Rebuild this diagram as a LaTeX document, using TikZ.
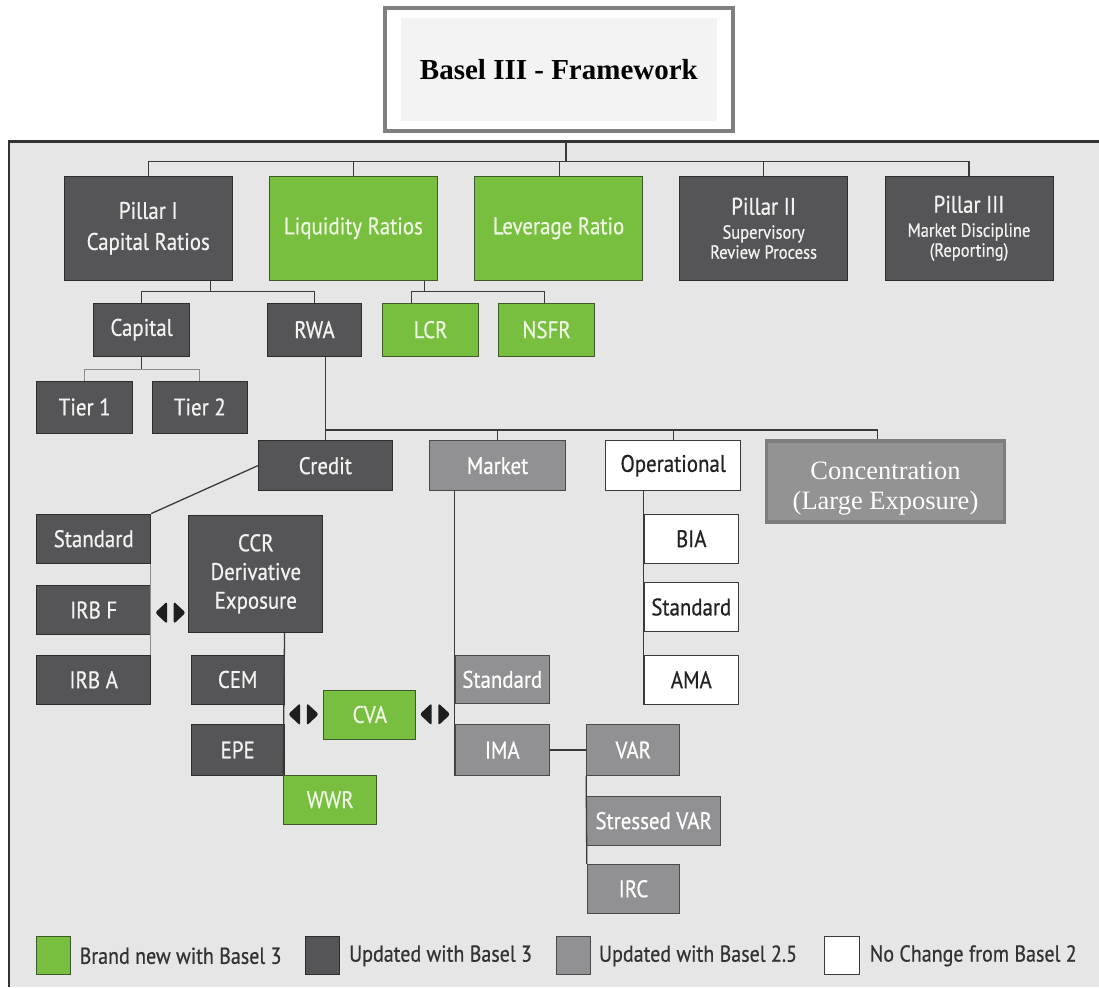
\documentclass[tikz,border=0pt]{standalone}
\usepackage{fontspec}
\newfontfamily\boxfont[FakeStretch=0.87,FakeBold=0.6]{PT Sans}
\newfontfamily\timesfont{Liberation Serif}

\definecolor{panelbg}{HTML}{E6E6E6}
\definecolor{panelrule}{HTML}{333333}
\definecolor{dkfill}{HTML}{555557}
\definecolor{dkrule}{HTML}{2E2E2E}
\definecolor{dktext}{HTML}{F2F2F2}
\definecolor{grfill}{HTML}{78BE3F}
\definecolor{grrule}{HTML}{3F5A2A}
\definecolor{grtext}{HTML}{EEF7E4}
\definecolor{mdfill}{HTML}{919193}
\definecolor{mdrule}{HTML}{4A4A4A}
\definecolor{wtrule}{HTML}{3A3A3A}
\definecolor{wttext}{HTML}{222222}
\definecolor{linec}{HTML}{3A3A3A}
\definecolor{faintc}{HTML}{8C8C8C}
\definecolor{frameC}{HTML}{7F7F7F}
\definecolor{frameFill}{HTML}{F3F3F3}
\definecolor{concfill}{HTML}{939393}
\definecolor{concrule}{HTML}{7D7D7D}
\definecolor{markc}{HTML}{1E1E1E}
\definecolor{legtext}{HTML}{333333}

\tikzset{
  cell/.style={rectangle, inner sep=0pt, line width=1pt, align=center,
    font=\boxfont\fontsize{24}{31}\selectfont},
  dk/.style={cell, fill=dkfill, draw=dkrule, text=dktext},
  gn/.style={cell, fill=grfill, draw=grrule, text=grtext},
  md/.style={cell, fill=mdfill, draw=mdrule, text=white},
  wt/.style={cell, fill=white, draw=wtrule, text=wttext},
  conn/.style={draw=linec, line width=1.3pt},
  faint/.style={draw=faintc, line width=1.3pt},
  legbox/.style={rectangle, inner sep=0pt, line width=1pt, minimum width=34.3, minimum height=38.3},
  legtxt/.style={anchor=west, inner sep=0pt, text=legtext, font=\boxfont\fontsize{23}{26}\selectfont},
  twoway/.pic={
    \fill[markc, rounded corners=2.5pt] (-3.3,-11.2) -- (-15.3,0) -- (-3.3,11.2) -- cycle;
    \fill[markc, rounded corners=2.5pt] (3.3,-11.2) -- (15.3,0) -- (3.3,11.2) -- cycle;
  }
}

\begin{document}
\begin{tikzpicture}[x=1pt, y=-1pt]
\useasboundingbox (0,0) rectangle (1099,987);

% panel behind the tree
\fill[panelbg] (9,141.7) rectangle (1099,987);
\draw[panelrule, line width=2.5pt] (9,987) -- (9,141.7) -- (1099,141.7);

% title
\node[rectangle, draw=frameC, fill=white, line width=4pt, minimum width=348.3, minimum height=123] (title) at (558.9,69.5) {};
\node[rectangle, fill=frameFill, inner sep=0pt, minimum width=316, minimum height=103.4,
      font=\timesfont\bfseries\fontsize{29}{34}\selectfont] (titletext) at (title.center) {Basel III - Framework};

% first level
\node[dk, minimum width=168, minimum height=103.5] (p1)  at (148.2,228.3) {Pillar I\\Capital Ratios};
\node[gn, minimum width=168, minimum height=103.5] (liq) at (353.4,228.3) {Liquidity Ratios};
\node[gn, minimum width=168, minimum height=103.5] (lev) at (558.5,228.3) {Leverage Ratio};
\node[dk, minimum width=168, minimum height=103.5, font=\boxfont\fontsize{19}{20}\selectfont] (p2) at (763.6,228.3)
  {{\fontsize{24}{25}\selectfont Pillar II}\\[4pt]Supervisory\\Review Process};
\node[dk, minimum width=168, minimum height=103.5, font=\boxfont\fontsize{19}{20}\selectfont] (p3) at (969,228.3)
  {{\fontsize{24}{25}\selectfont Pillar III}\\[4pt]Market Discipline\\(Reporting)};

% second level
\node[dk, minimum width=96.5, minimum height=53.4] (cap)  at (141.6,329.7) {Capital};
\node[dk, minimum width=94.3, minimum height=53.4] (rwa)  at (314.5,329.7) {RWA};
\node[gn, minimum width=95.7, minimum height=53.4] (lcr)  at (430.6,329.7) {LCR};
\node[gn, minimum width=96.4, minimum height=53.4] (nsfr) at (546.6,329.7) {NSFR};

\node[dk, minimum width=95.8, minimum height=52] (t1) at (84.7,407) {Tier 1};
\node[dk, minimum width=95,   minimum height=52] (t2) at (199.8,407) {Tier 2};

% risk types
\node[dk, minimum width=134,   minimum height=50] (credit) at (325.3,465.7) {Credit};
\node[md, minimum width=136.4, minimum height=50] (market) at (497.5,465.7) {Market};
\node[wt, minimum width=135,   minimum height=50] (oper)   at (673.2,465.7) {Operational};
\node[rectangle, fill=concfill, draw=concrule, line width=3.5pt, inner sep=0pt,
      text=white, minimum width=237.6, minimum height=81.3,
      font=\timesfont\fontsize{26.5}{30}\selectfont] (conc) at (885.5,481.4)
  {\parbox{230pt}{\centering\vspace*{15pt}Concentration\\(Large Exposure)}};

% credit risk
\node[dk, minimum width=114, minimum height=49.3] (std)  at (93.7,538.7) {Standard};
\node[dk, minimum width=114, minimum height=48.6] (irbf) at (93.7,610)   {IRB F};
\node[dk, minimum width=114, minimum height=49]   (irba) at (93.7,679.8) {IRB A};
\node[dk, minimum width=133.7, minimum height=117, font=\boxfont\fontsize{24}{28.7}\selectfont] (ccr) at (255.8,573.8)
  {CCR\\Derivative\\Exposure};
\node[dk, minimum width=92.7, minimum height=49] (cem) at (237.7,679.5) {CEM};
\node[dk, minimum width=92.7, minimum height=51] (epe) at (237.7,749.8) {EPE};
\node[gn, minimum width=93,   minimum height=49.3] (wwr) at (330.2,799.7) {WWR};
\node[gn, minimum width=92.3, minimum height=49] (cva) at (369.8,714.5) {CVA};

% market risk
\node[md, minimum width=94,   minimum height=48.7] (mstd) at (502.3,679.4) {Standard};
\node[md, minimum width=94,   minimum height=50.6] (ima)  at (502.3,750)   {IMA};
\node[md, minimum width=93.3, minimum height=50.6] (var)  at (633.3,750)   {VAR};
\node[md, minimum width=134,  minimum height=49.3] (svar) at (653.7,820.7) {Stressed VAR};
\node[md, minimum width=92.4, minimum height=49]   (irc)  at (633.5,888.8) {IRC};

% operational risk
\node[wt, minimum width=94, minimum height=49.3] (bia)  at (691.3,538.7) {BIA};
\node[wt, minimum width=94, minimum height=48.6] (ostd) at (691.3,607)   {Standard};
\node[wt, minimum width=94, minimum height=48.7] (ama)  at (691.3,679.7) {AMA};

% connectors: framework to the pillars
\coordinate (ptop) at (566,141.7);
\coordinate (bus)  at (566,161.7);
\draw[conn] (ptop) -- (bus);
\draw[conn] (p1.north) |- (bus) -| (p3.north);
\draw[conn] (liq.north) -- (liq.north |- bus);
\draw[conn] ([xshift=1pt]lev.north) -- ([xshift=1pt]lev.north |- bus);
\draw[conn] (p2.north) -- (p2.north |- bus);

% pillar I to capital and RWA
\coordinate (p1j) at (210.5,291.5);
\draw[conn] (p1.south -| p1j) -- (p1j);
\draw[conn] (cap.north) |- (p1j) -| (rwa.north);

% liquidity ratios to LCR and NSFR
\coordinate (lqj) at (424.4,291.5);
\draw[conn] (liq.south -| lqj) -- (lqj);
\draw[conn] ([xshift=-19.2pt]lcr.north) |- (lqj) -| ([xshift=-1.9pt]nsfr.north);

% capital to tiers
\coordinate (capj) at (141.6,369.7);
\draw[conn] (cap.south) -- (capj);
\draw[faint] (t1.north) |- (capj) -| (t2.north);

% RWA to the risk types
\coordinate (rj) at (325.3,430);
\draw[conn] (rwa.south -| credit.north) -- (credit.north);
\draw[conn] (rj) -| ([xshift=-7.8pt]conc.north);
\draw[conn] (rj -| market.north) -- (market.north);
\draw[conn] (rj -| oper.north) -- (oper.north);

% credit branch
\draw[conn] (credit.west) -- (std.north east);
\draw[faint] ([xshift=-0.7pt]std.south east) -- ([xshift=-0.7pt]irba.north east);
\draw[conn] (ccr.south -| cem.east) -- (wwr.north west);

% market branch
\draw[conn] (market.south -| ima.west) -- (ima.south west);
\draw[conn] (ima.east) -- (var.west);
\draw[conn] (var.south west) -- (irc.north west);

% operational branch
\draw[conn] (oper.south -| bia.west) -- (ama.south west);

% two-way markers
\pic at (170.4,612.7) {twoway};
\pic at (303.5,714.3) {twoway};
\pic at (435,714.3) {twoway};

% legend
\node[legbox, fill=grfill, draw=grrule]   (lg1) at (53.8,955.8)  {};
\node[legbox, fill=dkfill, draw=dkrule]   (lg2) at (322.3,955.8) {};
\node[legbox, fill=mdfill, draw=mdrule]   (lg3) at (573.2,955.8) {};
\node[legbox, fill=white,  draw=wtrule]   (lg4) at (842,955.8)   {};
\node[legtxt] (lt1) at ([xshift=8pt]lg1.east) {Brand new with Basel 3};
\node[legtxt] (lt2) at ([xshift=9pt]lg2.east) {Updated with Basel 3};
\node[legtxt] (lt3) at ([xshift=8pt]lg3.east) {Updated with Basel 2.5};
\node[legtxt] (lt4) at ([xshift=10pt]lg4.east) {No Change from Basel 2};
\end{tikzpicture}
\end{document}
